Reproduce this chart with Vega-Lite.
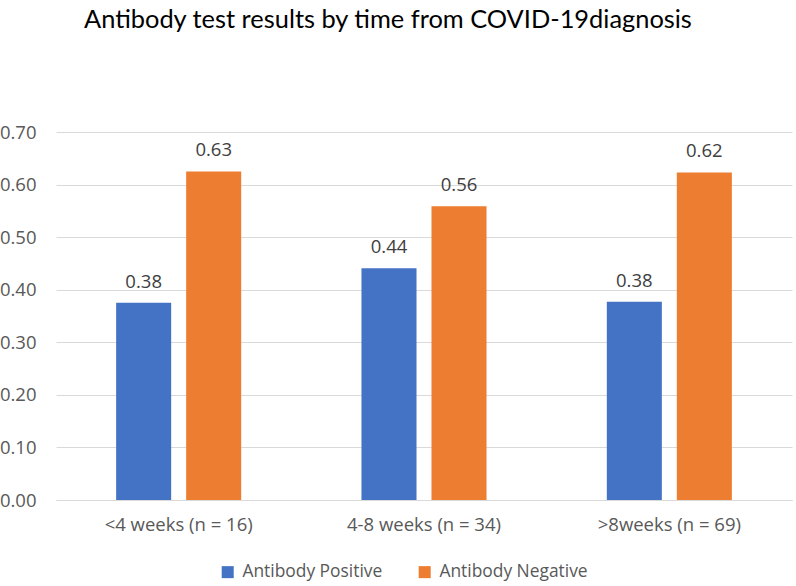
{
  "$schema": "https://vega.github.io/schema/vega-lite/v6.json",
  "width": 736,
  "height": 368,
  "autosize": {"type": "none"},
  "padding": {"left": 56, "top": 132, "right": 4, "bottom": 86},
  "background": "white",
  "title": {
    "text": "Antibody test results by time from COVID-19diagnosis",
    "anchor": "start",
    "frame": "group",
    "dx": 28,
    "offset": 90,
    "font": "Lato",
    "fontSize": 25.4,
    "fontWeight": "normal",
    "color": "#000000"
  },
  "data": {
    "values": [
      {"group": "<4 weeks (n = 16)", "result": "Antibody Positive", "value": 0.375},
      {"group": "<4 weeks (n = 16)", "result": "Antibody Negative", "value": 0.625},
      {"group": "4-8 weeks (n = 34)", "result": "Antibody Positive", "value": 0.441},
      {"group": "4-8 weeks (n = 34)", "result": "Antibody Negative", "value": 0.559},
      {"group": ">8weeks (n = 69)", "result": "Antibody Positive", "value": 0.377},
      {"group": ">8weeks (n = 69)", "result": "Antibody Negative", "value": 0.623}
    ]
  },
  "encoding": {
    "x": {
      "field": "group",
      "type": "nominal",
      "sort": ["<4 weeks (n = 16)", "4-8 weeks (n = 34)", ">8weeks (n = 69)"],
      "scale": {"paddingInner": 0, "paddingOuter": 0},
      "axis": {
        "title": null,
        "labelAngle": 0,
        "labelFont": "Open Sans",
        "labelFontSize": 18.5,
        "labelColor": "#595959",
        "labelPadding": 15,
        "ticks": false,
        "domainColor": "#D9D9D9",
        "domainWidth": 1,
        "grid": false
      }
    },
    "xOffset": {
      "field": "result",
      "type": "nominal",
      "sort": ["Antibody Positive", "Antibody Negative"],
      "scale": {"paddingInner": 0.214, "paddingOuter": 0.859}
    },
    "y": {
      "field": "value",
      "type": "quantitative",
      "scale": {"domain": [0, 0.7], "nice": false},
      "axis": {
        "title": null,
        "values": [0, 0.1, 0.2, 0.3, 0.4, 0.5, 0.6, 0.7],
        "format": ".2f",
        "labelFont": "Open Sans",
        "labelFontSize": 18.5,
        "labelColor": "#595959",
        "labelPadding": 20,
        "ticks": false,
        "domain": false,
        "grid": true,
        "gridColor": "#D9D9D9",
        "gridWidth": 1
      }
    }
  },
  "layer": [
    {
      "mark": {"type": "bar"},
      "encoding": {
        "color": {
          "field": "result",
          "type": "nominal",
          "sort": ["Antibody Positive", "Antibody Negative"],
          "scale": {"domain": ["Antibody Positive", "Antibody Negative"], "range": ["#4472C4", "#ED7D31"]},
          "legend": {
            "title": null,
            "orient": "none",
            "direction": "horizontal",
            "legendX": 163,
            "legendY": 431,
            "symbolType": "square",
            "symbolSize": 144,
            "symbolStrokeWidth": 0,
            "labelFont": "Open Sans",
            "labelFontSize": 17.4,
            "labelColor": "#595959",
            "labelOffset": 6,
            "columnPadding": 33
          }
        }
      }
    },
    {
      "mark": {"type": "text", "baseline": "alphabetic", "dy": -15, "font": "Open Sans", "fontSize": 18.5, "color": "#404040"},
      "encoding": {
        "text": {"field": "value", "type": "quantitative", "format": ".2f"}
      }
    }
  ],
  "config": {
    "view": {"stroke": null}
  }
}
